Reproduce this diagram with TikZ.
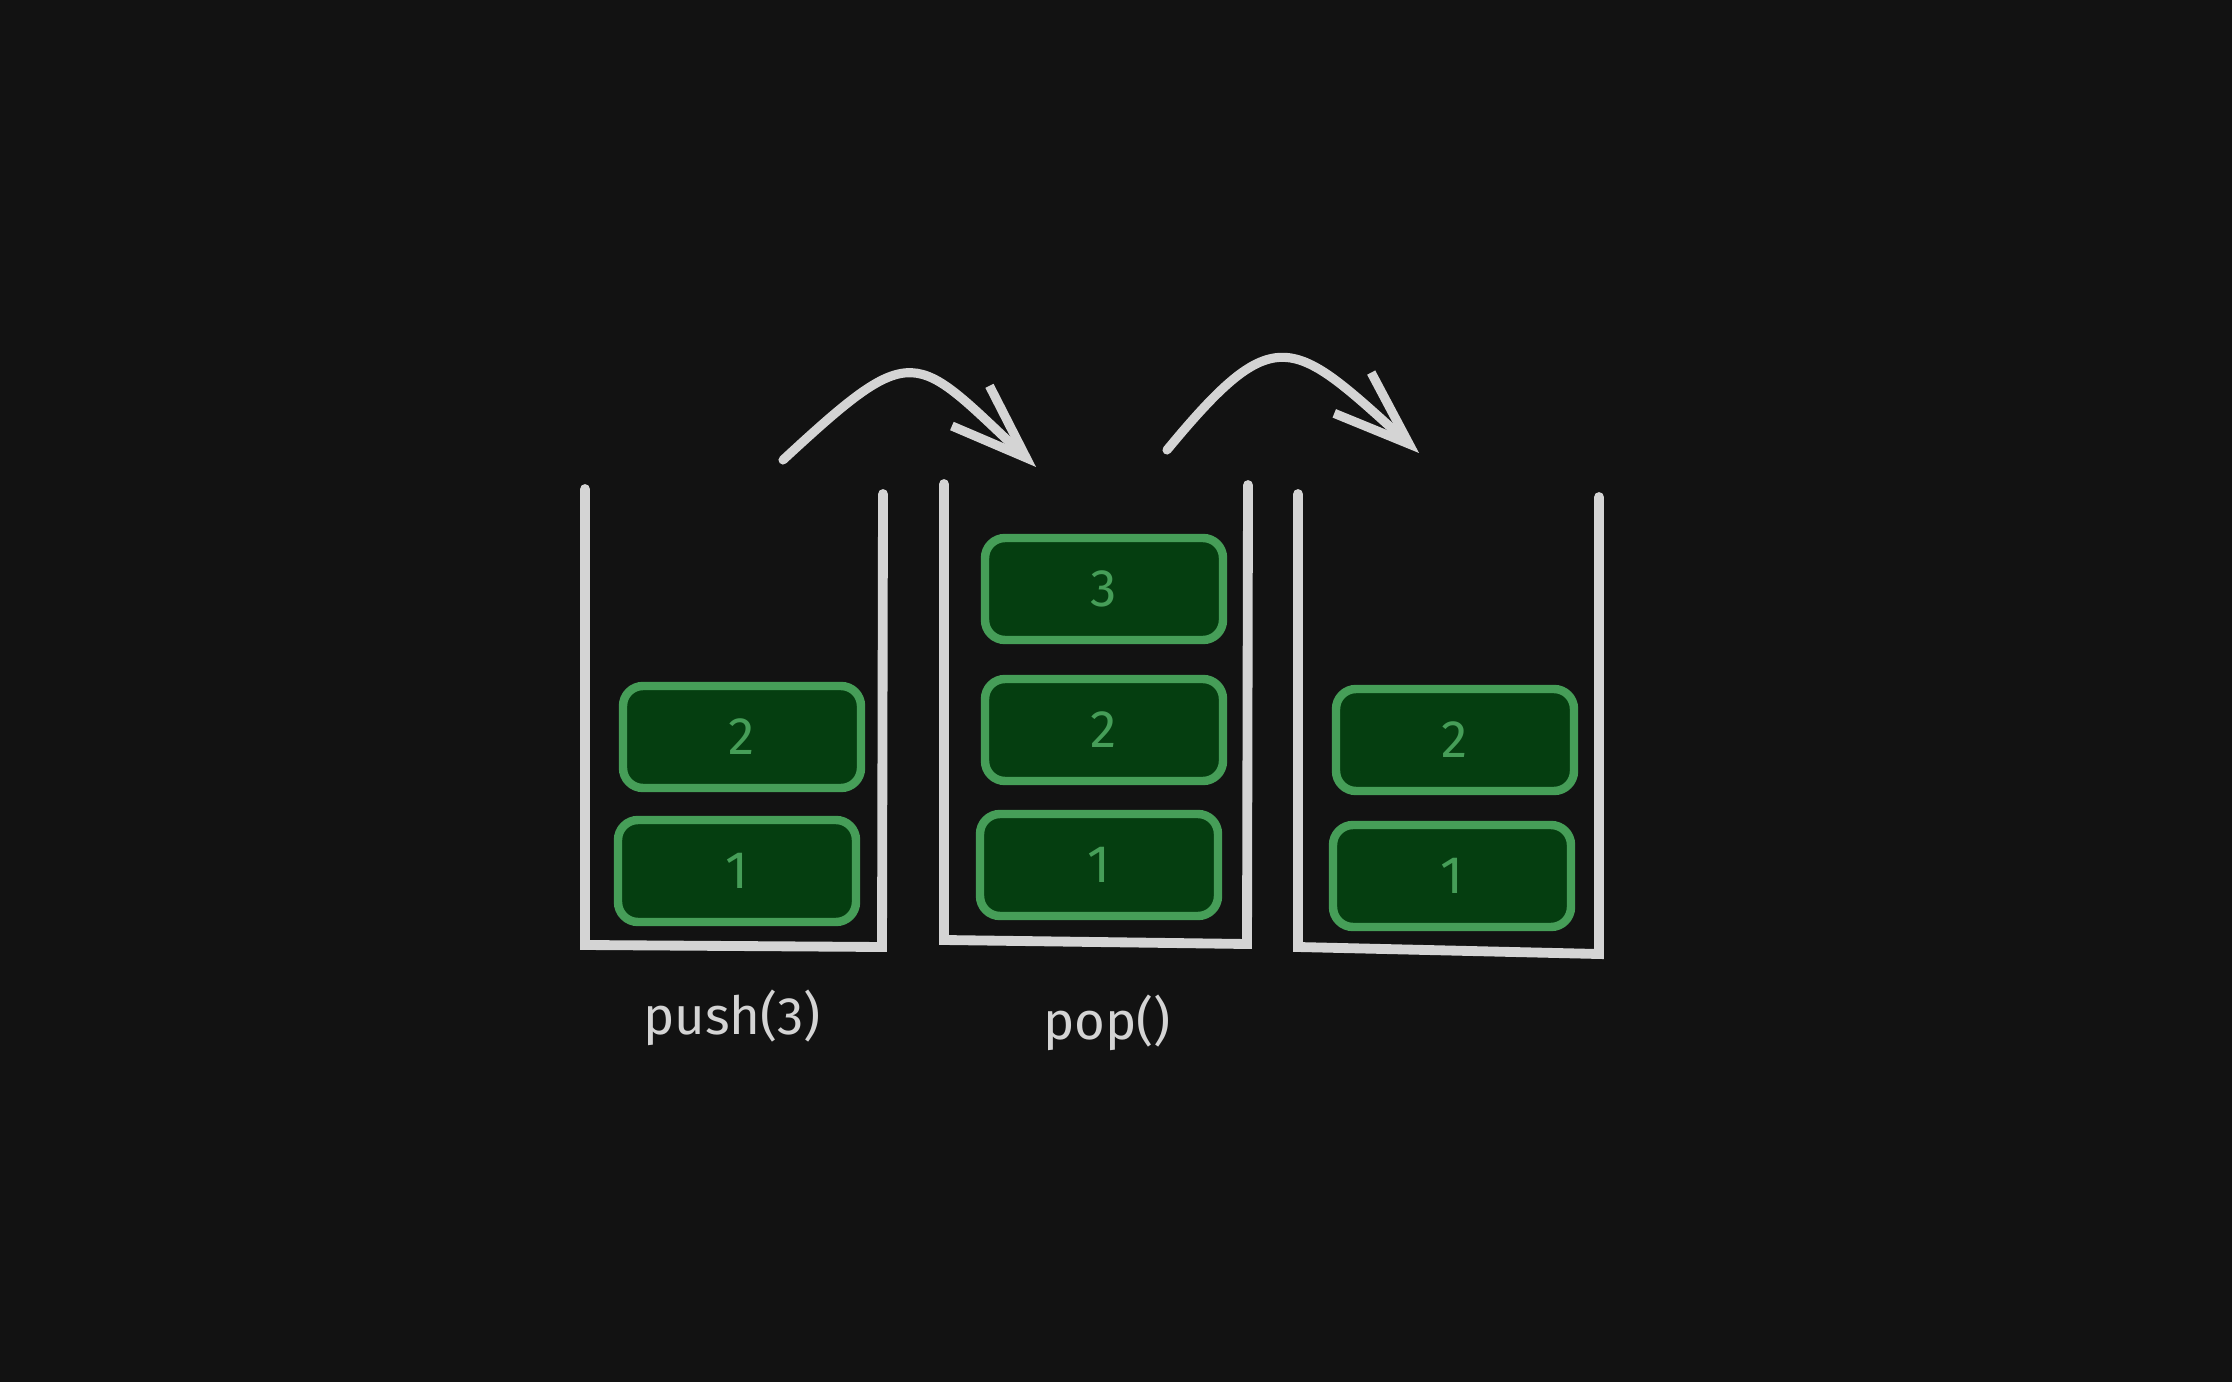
\documentclass[tikz,border=0pt]{standalone}
\usepackage{fontspec}
\setmainfont{Fira Sans}
\usepackage{tkz-euclide}
\usetikzlibrary{arrows.meta,calc}
\definecolor{BgClr}{RGB}{18,18,18}
\definecolor{WallClr}{RGB}{212,212,212}
\definecolor{BoxClr}{RGB}{5,62,16}
\definecolor{GreenClr}{RGB}{70,158,88}

\tikzset{
  item/.style={draw=GreenClr,fill=BoxClr,line width=2.4pt,rounded corners=0.2cm,
    minimum width=2.38cm,minimum height=1.02cm,inner sep=0pt,text=GreenClr,
    font=\fontsize{15}{17}\selectfont},
  caption/.style={text=WallClr,anchor=base,font=\fontsize{15}{18}\selectfont},
  jump/.style={draw=WallClr,line width=2.6pt,line cap=round,line join=round,
    -{Straight Barb[length=7.6mm,width=5.5mm]}}
}

\begin{document}
\begin{tikzpicture}
\fill[BgClr] (0,0) rectangle (22.32,13.82);
\useasboundingbox (0,0) rectangle (22.32,13.82);
\tkzSetUpLine[line width=2.8pt,color=WallClr]

% Define the corners of the three stacks.
\tkzDefPoints{5.85/8.93/A1,5.85/4.37/B1,8.82/4.35/C1,8.83/8.88/D1}
\tkzDefPoints{9.44/8.98/A2,9.44/4.42/B2,12.47/4.38/C2,12.48/8.97/D2}
\tkzDefPoints{12.98/8.88/A3,12.98/4.35/B3,15.99/4.28/C3,15.99/8.85/D3}

% Draw the stacks.
\tkzDrawPolySeg(A1,B1,C1,D1)
\tkzDrawPolySeg(A2,B2,C2,D2)
\tkzDrawPolySeg(A3,B3,C3,D3)

% The items in each stack.
\node[item] (s1i2) at (7.42,6.45) {2};
\node[item] (s1i1) at (7.37,5.11) {1};

\node[item] (s2i3) at (11.04,7.93) {3};
\node[item] (s2i2) at (11.04,6.52) {2};
\node[item] (s2i1) at (10.99,5.17) {1};

\node[item] (s3i2) at (14.55,6.42) {2};
\node[item] (s3i1) at (14.52,5.06) {1};

% Operations below the stacks.
\node[caption] (push) at (7.32,3.48) {push(3)};
\node[caption] (pop) at (11.07,3.43) {pop()};

% Define the ends and controls of the arrows.
\tkzDefPoints{7.83/9.22/p1,9.16/10.45/q1,9.13/10.30/r1,10.36/9.15/t1}
\tkzDefPoints{11.67/9.32/p2,12.76/10.64/q2,12.92/10.44/r2,14.19/9.29/t2}

\draw[jump] (p1) .. controls (q1) and (r1) .. (t1);
\draw[jump] (p2) .. controls (q2) and (r2) .. (t2);

\end{tikzpicture}
\end{document}
